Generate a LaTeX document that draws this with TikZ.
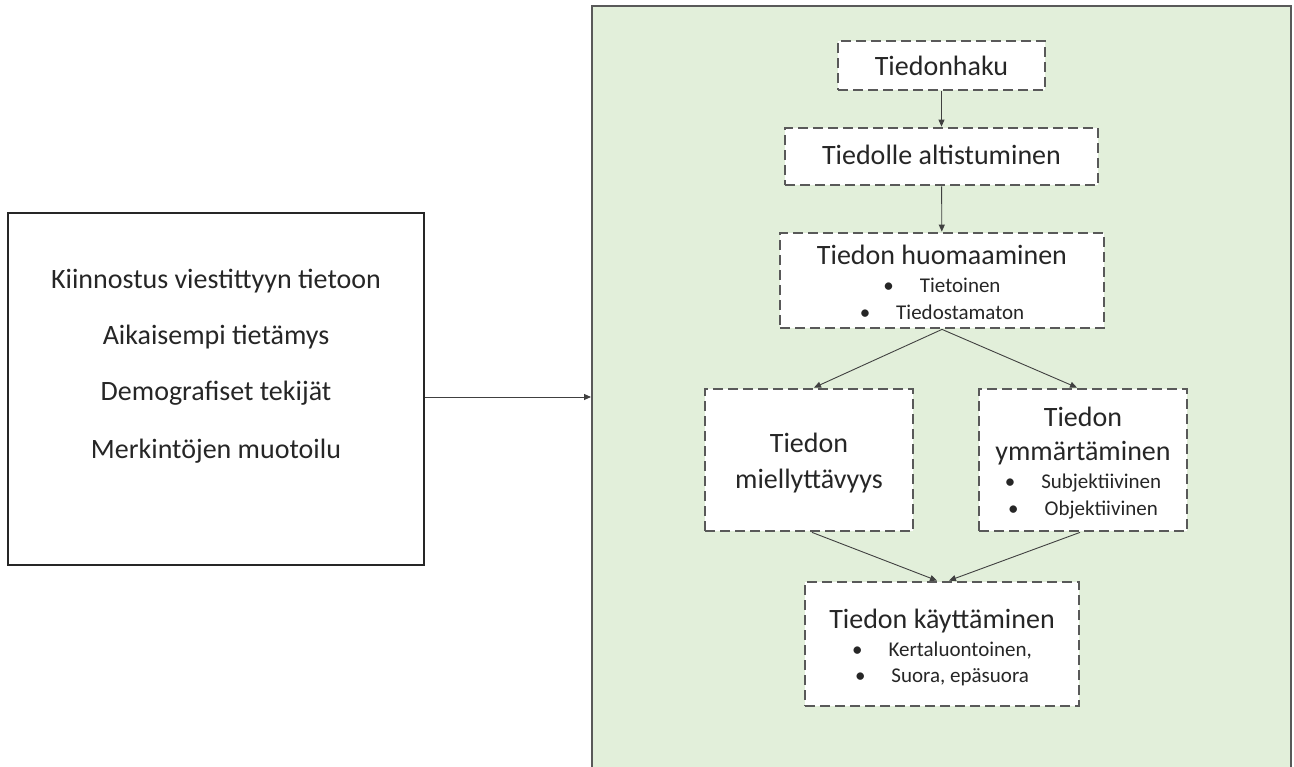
\documentclass[tikz,border=0pt]{standalone}
\usepackage{fontspec}
\setmainfont{Carlito}
\usetikzlibrary{arrows.meta,calc}
\definecolor{panelgreen}{HTML}{E2EFDA}
\definecolor{dashgray}{HTML}{595959}
\definecolor{txt}{HTML}{262626}
\newcommand{\bulitem}{\textbullet\hspace{26pt}}
\begin{document}
\begin{tikzpicture}[x=1pt,y=-1pt,
  box/.style={draw=dashgray, line width=2.8pt, dash pattern=on 10pt off 5pt, fill=white, rectangle, inner sep=0pt},
  big/.style={font=\fontsize{28}{34}\selectfont, text=txt, anchor=base, inner sep=0pt},
  small/.style={font=\fontsize{21}{26}\selectfont, text=txt, anchor=base, inner sep=0pt},
  arr/.style={draw=black!75, line width=0.9pt, -{Triangle[length=7pt,width=6pt]}}]
\useasboundingbox (0,0) rectangle (1294,767);
\fill[white] (0,0) rectangle (1294,767);
\clip (0,0) rectangle (1294,767);

% panel
\node[draw=black!65, line width=2pt, fill=panelgreen, rectangle, inner sep=0pt,
      minimum width=699pt, minimum height=800pt, anchor=north west] (panel) at (591,5) {};

% left box
\node[draw=black!85, line width=1.5pt, fill=white, rectangle, inner sep=0pt,
      minimum width=416pt, minimum height=352pt] (left) at (216,389) {};
\node[big] (l1) at (216,289) {Kiinnostus viestittyyn tietoon};
\node[big] (l2) at (216,345) {Aikaisempi tietämys};
\node[big] (l3) at (216,401) {Demografiset tekijät};
\node[big] (l4) at (216,458) {Merkintöjen muotoilu};

% boxes
\node[box, minimum width=207pt, minimum height=49pt] (hak) at (941.5,65.5) {};
\node[box, minimum width=313pt, minimum height=57pt] (alt) at (941.5,156.5) {};
\node[box, minimum width=324pt, minimum height=95pt] (huo) at (942,280.5) {};
\node[box, minimum width=208pt, minimum height=142pt] (mie) at (809,460) {};
\node[box, minimum width=208pt, minimum height=142pt] (ymm) at (1083,460) {};
\node[box, minimum width=274pt, minimum height=124pt] (kay) at (942,644) {};

% texts
\node[big] (hak-t) at (941.5,76) {Tiedonhaku};
\node[big] (alt-t) at (941.5,165) {Tiedolle altistuminen};
\node[big] (huo-t) at (942,265) {Tiedon huomaaminen};
\node[small] (huo-b1) at (942,293) {\bulitem Tietoinen};
\node[small] (huo-b2) at (942,320) {\bulitem Tiedostamaton};
\node[big] (mie-t1) at (809,453) {Tiedon};
\node[big] (mie-t2) at (809,488) {miellyttävyys};
\node[big] (ymm-t1) at (1083,427) {Tiedon};
\node[big] (ymm-t2) at (1083,460) {ymmärtäminen};
\node[small] (ymm-b1) at (1083,488) {\bulitem Subjektiivinen};
\node[small] (ymm-b2) at (1083,515) {\bulitem Objektiivinen};
\node[big] (kay-t) at (942,628) {Tiedon käyttäminen};
\node[small] (kay-b1) at (942,656) {\bulitem Kertaluontoinen,};
\node[small] (kay-b2) at (942,682) {\bulitem Suora, epäsuora};

% connectors
\coordinate (ay) at (0,397);
\draw[arr] (left.east |- ay) -- (panel.west |- ay);
\draw[arr] (hak) -- (alt);
\draw[arr] (alt) -- (huo);
\draw[arr] (huo.south) -- ([xshift=5pt]mie.north);
\draw[arr] (huo.south) -- ([xshift=-6pt]ymm.north);
\draw[arr] ([xshift=3pt]mie.south) -- ([xshift=-5pt]kay.north);
\draw[arr] ([xshift=-3pt]ymm.south) -- ([xshift=7pt]kay.north);
\end{tikzpicture}
\end{document}
